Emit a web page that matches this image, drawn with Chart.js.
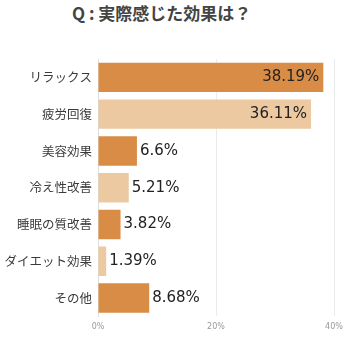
<!DOCTYPE html>
<html>
<head>
<meta charset="utf-8">
<script src="https://cdn.jsdelivr.net/npm/chart.js@4/dist/chart.umd.min.js"></script>
<style>
  body { margin: 0; background: #fff; }
  #titulo {
    height: 40px; line-height: 33px; padding-left: 72px;
    font: bold 17px "Noto Sans CJK JP", sans-serif; color: #444;
  }
  #caja { position: relative; width: 355px; height: 298px; }
</style>
</head>
<body>
<div id="titulo">Q : 実際感じた効果は？</div>
<div id="caja"><canvas id="grafica"></canvas></div>
<script>
const $grafica = document.querySelector("#grafica");

// Categorías del eje Y
const etiquetas = ["リラックス", "疲労回復", "美容効果", "冷え性改善", "睡眠の質改善", "ダイエット効果", "その他"];
// Porcentajes
const valores = [38.19, 36.11, 6.6, 5.21, 3.82, 1.39, 8.68];
// Etiquetas de los valores
const textos = ["38.19%", "36.11%", "6.6%", "5.21%", "3.82%", "1.39%", "8.68%"];
const colores = ["#D98C45", "#ECC9A1", "#D98C45", "#ECC9A1", "#D98C45", "#ECC9A1", "#D98C45"];

// Plugin simple para escribir los valores en las barras
const etiquetasValor = {
    id: 'etiquetasValor',
    afterDatasetsDraw(chart) {
        const ctx = chart.ctx;
        const meta = chart.getDatasetMeta(0);
        ctx.save();
        ctx.font = '15px "DejaVu Sans", sans-serif';
        ctx.fillStyle = '#222';
        ctx.textBaseline = 'middle';
        meta.data.forEach((barra, i) => {
            if (valores[i] > 20) {
                ctx.textAlign = 'right';
                ctx.fillText(textos[i], barra.x - 4, barra.y);
            } else {
                ctx.textAlign = 'left';
                ctx.fillText(textos[i], barra.x + 3, barra.y);
            }
        });
        ctx.restore();
    }
};

new Chart($grafica, {
    type: 'bar',
    data: {
        labels: etiquetas,
        datasets: [{
            data: valores,
            backgroundColor: colores,
            barPercentage: 0.8,
            categoryPercentage: 1,
        }]
    },
    plugins: [etiquetasValor],
    options: {
        indexAxis: 'y',
        responsive: true,
        maintainAspectRatio: false,
        animation: false,
        layout: { padding: { top: 19, right: 21, bottom: 0, left: 0 } },
        plugins: {
            legend: { display: false },
            tooltip: { enabled: false },
        },
        scales: {
            x: {
                min: 0,
                max: 40,
                grid: { color: '#ebebeb', drawTicks: false },
                border: { display: false },
                ticks: {
                    stepSize: 20,
                    padding: 6,
                    color: '#999',
                    font: { size: 8, family: '"DejaVu Sans", sans-serif' },
                    callback: (v) => v + '%'
                }
            },
            y: {
                grid: { display: false, drawTicks: false },
                border: { display: true, color: '#ddd' },
                afterFit: (escala) => { escala.width = 98; },
                ticks: {
                    padding: 6,
                    color: '#3a3a3a',
                    font: { size: 12.5, family: '"Noto Sans CJK JP", sans-serif' }
                }
            }
        }
    }
});
</script>
</body>
</html>
